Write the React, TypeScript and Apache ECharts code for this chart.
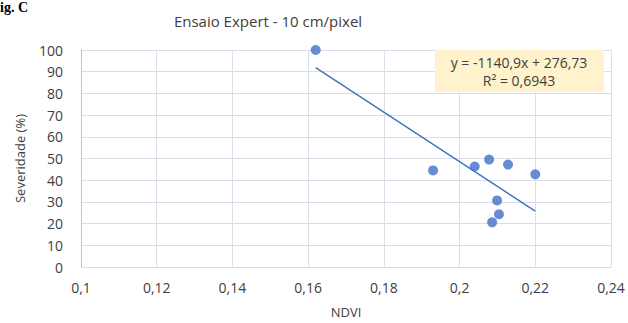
import React, { useEffect, useRef } from "react";
import * as echarts from "echarts";

const ndvi = [0.162, 0.193, 0.204, 0.2078, 0.2128, 0.22, 0.2099, 0.2104, 0.2086];
const severidade = [100, 44.5, 46.3, 49.5, 47.2, 42.7, 30.7, 24.3, 20.6];
const trendX = [0.162, 0.22];
const trendY = [91.9, 25.7];
const xTicks = { min: 0.1, max: 0.24, interval: 0.02 };
const yTicks = { min: 0, max: 100, interval: 10 };
const equationText = "y = -1140,9x + 276,73";
const r2Text = "R² = 0,6943";

const FONT = "'Open Sans', 'Noto Sans', sans-serif";
const TXT = "#404040";

export default function App() {
  const ref = useRef<HTMLDivElement>(null);
  useEffect(() => {
    const chart = echarts.init(ref.current!, null, { renderer: "svg" });
    chart.setOption({
      animation: false,
      backgroundColor: "#ffffff",
      title: {
        text: "Ensaio Expert - 10 cm/pixel",
        left: 263,
        textAlign: "center",
        top: 8,
        textStyle: { fontFamily: FONT, fontSize: 15, fontWeight: "normal", color: TXT },
      },
      grid: { left: 81, right: 17, top: 50, bottom: 55 },
      xAxis: {
        type: "value",
        min: xTicks.min,
        max: xTicks.max,
        interval: xTicks.interval,
        name: "NDVI",
        nameLocation: "middle",
        nameGap: 38,
        nameTextStyle: { fontFamily: FONT, fontSize: 13, color: TXT },
        axisLine: { show: true, lineStyle: { color: "#d9dfe9" } },
        axisTick: { show: false },
        axisLabel: {
          fontFamily: FONT,
          fontSize: 14,
          color: TXT,
          margin: 13,
          formatter: (v: number) => String(+v.toFixed(2)).replace(".", ","),
        },
        splitLine: { show: true, lineStyle: { color: "#d9dfe9", width: 1 } },
      },
      yAxis: {
        type: "value",
        min: yTicks.min,
        max: yTicks.max,
        interval: yTicks.interval,
        name: "Severidade (%)",
        nameLocation: "middle",
        nameGap: 55,
        nameRotate: 90,
        nameTextStyle: { fontFamily: FONT, fontSize: 13, color: TXT },
        axisLine: { show: true, lineStyle: { color: "#b8c4d8" } },
        axisTick: { show: false },
        axisLabel: { fontFamily: FONT, fontSize: 14, color: TXT, margin: 18 },
        splitLine: { show: true, lineStyle: { color: "#d9dfe9", width: 1 } },
      },
      series: [
        {
          type: "line",
          data: trendX.map((x, i) => [x, trendY[i]]),
          symbol: "none",
          lineStyle: { color: "#4472C4", width: 1.5 },
          z: 2,
        },
        {
          type: "scatter",
          data: ndvi.map((x, i) => [x, severidade[i]]),
          symbolSize: 10,
          itemStyle: { color: "#4070C8" },
          z: 3,
        },
      ],
      graphic: [
        {
          type: "text",
          left: 0,
          top: 0,
          style: { text: "ig. C", font: "bold 14px 'Liberation Serif', serif", fill: "#000" },
        },
        {
          type: "rect",
          shape: { x: 435, y: 50, width: 169, height: 42 },
          style: { fill: "#FFF2CC" },
          z: 10,
        },
        {
          type: "text",
          x: 519,
          y: 62,
          style: {
            text: equationText,
            font: "14px " + FONT,
            fill: TXT,
            align: "center",
            verticalAlign: "middle",
          },
          z: 11,
        },
        {
          type: "text",
          x: 519,
          y: 80,
          style: {
            text: r2Text,
            font: "14px " + FONT,
            fill: TXT,
            align: "center",
            verticalAlign: "middle",
          },
          z: 11,
        },
      ],
    });
    return () => chart.dispose();
  }, []);
  return <div ref={ref} style={{ position: "fixed", left: 0, top: 0, width: 628, height: 323 }} />;
}
